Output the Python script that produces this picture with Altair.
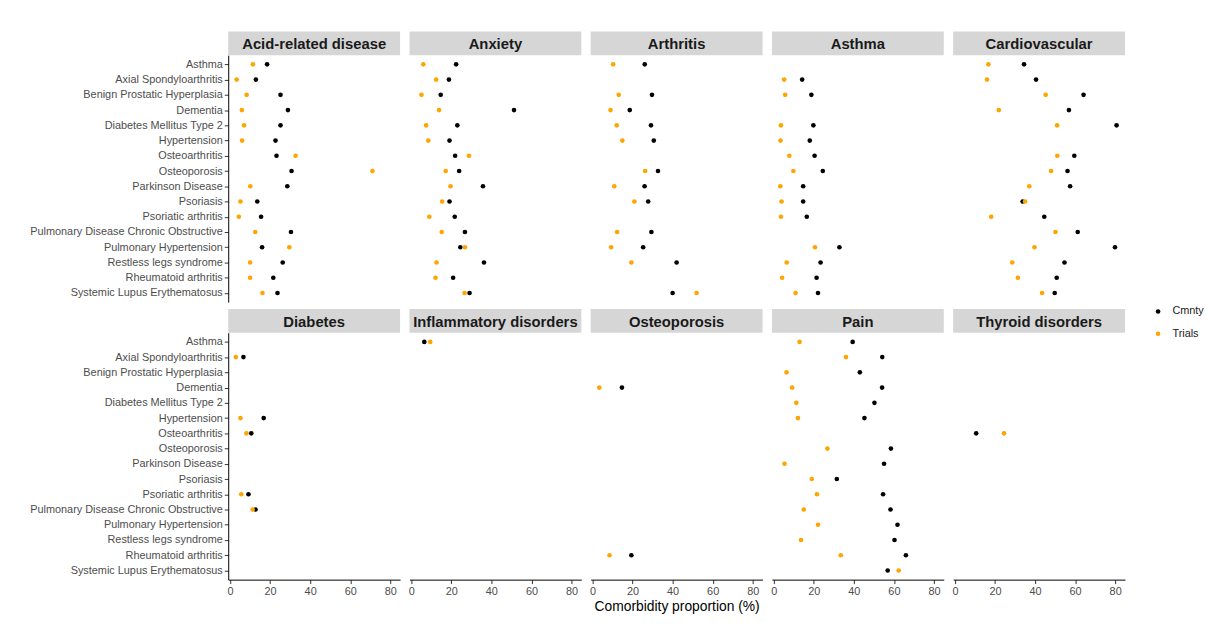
import altair as alt
import pandas as pd

conditions = [
    "Asthma", "Axial Spondyloarthritis", "Benign Prostatic Hyperplasia", "Dementia",
    "Diabetes Mellitus Type 2", "Hypertension", "Osteoarthritis", "Osteoporosis",
    "Parkinson Disease", "Psoriasis", "Psoriatic arthritis",
    "Pulmonary Disease Chronic Obstructive", "Pulmonary Hypertension",
    "Restless legs syndrome", "Rheumatoid arthritis", "Systemic Lupus Erythematosus",
]

groups = [
    "Acid-related disease", "Anxiety", "Arthritis", "Asthma", "Cardiovascular",
    "Diabetes", "Inflammatory disorders", "Osteoporosis", "Pain", "Thyroid disorders",
]

N = None
acid_cmnty = [18.5, 12.9, 25.2, 28.9, 25.2, 22.7, 23.2, 30.7, 28.6, 13.6, 15.5, 30.4, 16.0, 26.3, 21.6, 23.7]
acid_trials = [11.4, 3.3, 8.3, 5.9, 7.0, 6.0, 32.7, 71.1, 10.1, 5.2, 4.4, 12.6, 29.6, 10.0, 10.0, 16.2]
anxiety_cmnty = [22.4, 18.8, 14.7, 51.3, 23.0, 19.1, 21.9, 23.9, 35.8, 19.1, 21.7, 26.8, 24.5, 36.3, 20.9, 29.1]
anxiety_trials = [6.0, 12.4, 5.1, 13.9, 7.4, 8.5, 28.8, 17.2, 19.6, 15.4, 9.0, 15.2, 26.8, 12.6, 12.1, 26.6]
arthritis_cmnty = [26.1, N, 29.7, 18.6, 29.2, 30.6, N, 32.7, 26.0, 27.8, N, 29.4, 25.3, 42.0, N, 40.0]
arthritis_trials = [10.3, N, 13.1, 9.0, 12.1, 14.9, N, 26.3, 10.9, 20.9, N, 12.3, 9.3, 19.4, N, 52.0]
asthma_cmnty = [N, 14.2, 18.8, N, 19.8, 18.0, 20.4, 24.5, 14.7, 14.7, 16.5, N, 32.8, 23.4, 21.4, 22.1]
asthma_trials = [N, 5.2, 5.7, N, 3.6, 3.4, 7.8, 9.8, 3.3, 3.9, 3.6, N, 20.6, 6.5, 4.2, 10.9]
cardio_cmnty = [34.5, 40.5, 64.2, 56.9, 80.7, N, 59.6, 56.2, 57.5, 33.8, 44.6, 61.3, 79.9, 54.7, 50.8, 49.8]
cardio_trials = [16.7, 16.0, 45.3, 21.9, 51.0, N, 51.1, 48.0, 37.1, 35.0, 18.1, 50.2, 39.7, 28.6, 31.4, 43.5]
diabetes_cmnty = [N, 6.7, N, N, N, 16.8, 10.6, N, N, N, 9.2, 12.7, N, N, N, N]
diabetes_trials = [N, 2.9, N, N, N, 5.2, 8.2, N, N, N, 5.6, 11.3, N, N, N, N]
inflam_cmnty = [6.5, N, N, N, N, N, N, N, N, N, N, N, N, N, N, N]
inflam_trials = [9.5, N, N, N, N, N, N, N, N, N, N, N, N, N, N, N]
osteo_cmnty = [N, N, N, 14.7, N, N, N, N, N, N, N, N, N, N, 19.4, N]
osteo_trials = [N, N, N, 3.4, N, N, N, N, N, N, N, N, N, N, 8.5, N]
pain_cmnty = [39.4, 54.2, 43.0, 54.1, 50.3, 45.3, N, 58.5, 55.1, 31.5, 54.6, 58.3, 61.8, 60.3, 66.0, 56.9]
pain_trials = [12.9, 36.1, 6.4, 9.2, 11.3, 12.1, N, 26.8, 5.4, 19.0, 21.6, 15.0, 22.1, 13.6, 33.5, 62.4]
thyroid_cmnty = [N, N, N, N, N, N, 10.6, N, N, N, N, N, N, N, N, N]
thyroid_trials = [N, N, N, N, N, N, 24.5, N, N, N, N, N, N, N, N, N]

cmnty = dict(zip(groups, [acid_cmnty, anxiety_cmnty, arthritis_cmnty, asthma_cmnty, cardio_cmnty,
                          diabetes_cmnty, inflam_cmnty, osteo_cmnty, pain_cmnty, thyroid_cmnty]))
trials = dict(zip(groups, [acid_trials, anxiety_trials, arthritis_trials, asthma_trials, cardio_trials,
                           diabetes_trials, inflam_trials, osteo_trials, pain_trials, thyroid_trials]))

rows = []
for g in groups:
    for src, table in (("Cmnty", cmnty), ("Trials", trials)):
        for c, v in zip(conditions, table[g]):
            if v is not None:
                rows.append({"group": g, "condition": c, "source": src, "value": v})
df = pd.DataFrame(rows)

FONT = "Liberation Sans"
W, H, SH = 174, 250, 24

xscale = alt.Scale(domain=[-0.9, 84.9], nice=False, zero=False)
yscale = alt.Scale(domain=conditions, padding=0.6)
color = alt.Color(
    "source:N",
    scale=alt.Scale(domain=["Cmnty", "Trials"], range=["#000000", "#FFA500"]),
    legend=alt.Legend(title=None, orient="none", legendX=936, legendY=278,
                      symbolType="circle", symbolSize=22, symbolStrokeWidth=0,
                      labelFontSize=11, labelColor="#1a1a1a", labelFont=FONT,
                      labelOffset=9, rowPadding=10.5, padding=0),
)

cells = []
for i, g in enumerate(groups):
    col, row = i % 5, i // 5
    sdf = pd.DataFrame({"group": [g]})
    strip_bg = alt.Chart(sdf).mark_rect(color="#d6d6d6").encode(
        x=alt.value(0), x2=alt.value(W), y=alt.value(0), y2=alt.value(SH))
    strip_txt = alt.Chart(sdf).mark_text(
        font=FONT, fontSize=15, fontWeight="bold", color="#1a1a1a",
        align="center", baseline="middle").encode(
        text="group:N", x=alt.value(W / 2), y=alt.value(SH / 2 + 1))
    strip = alt.layer(strip_bg, strip_txt).properties(width=W, height=SH)

    if row == 1:
        xaxis = alt.Axis(values=[0, 20, 40, 60, 80], grid=False, domainColor="#000000",
                         tickColor="#333333", tickSize=4, labelPadding=2,
                         labelFontSize=11, labelColor="#4d4d4d", labelFont=FONT,
                         title="Comorbidity proportion (%)" if g == "Osteoporosis" else None,
                         titleFontSize=14, titleFontWeight="normal", titleColor="#000000",
                         titleFont=FONT, titlePadding=3)
    else:
        xaxis = None
    if col == 0:
        yaxis = alt.Axis(title=None, grid=False, domainColor="#000000", tickColor="#333333",
                         tickSize=4, labelPadding=2, labelFontSize=11, labelLimit=0,
                         labelColor="#4d4d4d", labelFont=FONT)
    else:
        yaxis = None

    pts = alt.Chart(df).transform_filter(alt.datum.group == g).mark_circle(
        size=22, opacity=1).encode(
        x=alt.X("value:Q", scale=xscale, axis=xaxis),
        y=alt.Y("condition:N", scale=yscale, axis=yaxis, sort=conditions),
        color=color,
    ).properties(width=W, height=H)

    cells.append(alt.vconcat(strip, pts, spacing=0))

chart = alt.concat(*cells, columns=5, spacing={"row": 7, "column": 7.5}).properties(
    padding={"left": 21, "top": 20, "right": 0, "bottom": -2}
).configure(font=FONT, view=alt.ViewConfig(stroke=None))

chart.save("out.html", embed_options={"renderer": "svg", "actions": False})
